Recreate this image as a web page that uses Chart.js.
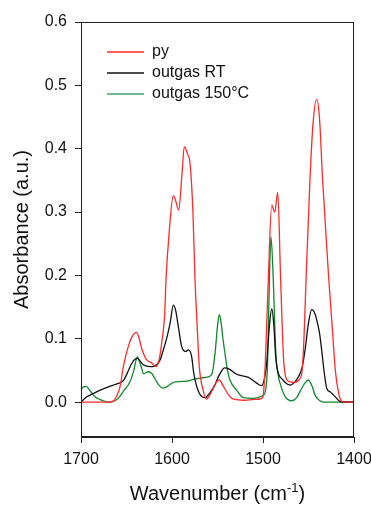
<!DOCTYPE html>
<html>
<head>
<meta charset="utf-8">
<script src="https://cdn.jsdelivr.net/npm/chart.js@4"></script>
<style>
  html, body { margin: 0; padding: 0; background: #fff; }
  #wrap { width: 371px; height: 505px; }
</style>
</head>
<body>
<div id="wrap"><canvas id="chart-1"></canvas></div>
<script>
// spectra (wavenumber in cm-1, absorbance in a.u.)
const pyWave = [1700, 1670, 1664, 1660, 1657, 1653.5, 1648, 1644, 1639, 1636, 1633.4, 1628, 1622.4, 1617.6, 1614, 1611.4, 1608, 1606.6, 1603, 1598.6, 1596, 1592.7, 1589, 1586.5, 1583, 1580.2, 1577, 1574.7, 1572, 1570, 1566, 1562, 1556, 1551, 1548, 1544, 1538, 1533, 1520, 1503, 1500, 1497.5, 1494.2, 1490.4, 1487.1, 1483.8, 1480.6, 1477, 1472, 1466, 1460, 1457, 1455, 1452.7, 1448.4, 1445, 1441, 1438, 1434.5, 1428, 1424, 1420.5, 1417, 1414, 1410, 1400];
const pyAbs = [0, 0, 0.002, 0.012, 0.025, 0.056, 0.088, 0.103, 0.110, 0.100, 0.085, 0.067, 0.062, 0.056, 0.068, 0.093, 0.14, 0.193, 0.27, 0.326, 0.318, 0.303, 0.36, 0.403, 0.392, 0.377, 0.30, 0.193, 0.11, 0.056, 0.02, 0.005, 0.018, 0.032, 0.035, 0.026, 0.012, 0.005, 0.003, 0.005, 0.009, 0.06, 0.193, 0.311, 0.30, 0.331, 0.193, 0.06, 0.033, 0.031, 0.036, 0.05, 0.10, 0.193, 0.351, 0.44, 0.478, 0.45, 0.351, 0.20, 0.12, 0.05, 0.015, 0.002, 0, 0];

const rtWave = [1700, 1694, 1686, 1679, 1672, 1664.5, 1658, 1653.5, 1650, 1646, 1642, 1638, 1634.5, 1631.5, 1624, 1619, 1616.8, 1613, 1609.6, 1606, 1602, 1598.6, 1596, 1593, 1589.4, 1585, 1582, 1578.4, 1576.5, 1574.7, 1570, 1564, 1558.2, 1553, 1548, 1542, 1537, 1529, 1516, 1507, 1501.5, 1498, 1496, 1493, 1490.4, 1488, 1486, 1483, 1478, 1474, 1470, 1465, 1461, 1457, 1454, 1450, 1446.5, 1443, 1441, 1438, 1435.5, 1433, 1430, 1426, 1422.7, 1419, 1415.4, 1400];
const rtAbs = [0, 0.008, 0.014, 0.019, 0.023, 0.027, 0.030, 0.034, 0.043, 0.056, 0.066, 0.069, 0.064, 0.059, 0.056, 0.057, 0.059, 0.067, 0.082, 0.100, 0.125, 0.153, 0.145, 0.119, 0.088, 0.080, 0.0825, 0.072, 0.050, 0.035, 0.014, 0.007, 0.015, 0.027, 0.043, 0.054, 0.052, 0.044, 0.039, 0.030, 0.026, 0.04, 0.06, 0.12, 0.147, 0.12, 0.07, 0.045, 0.035, 0.029, 0.027, 0.032, 0.040, 0.055, 0.080, 0.125, 0.146, 0.140, 0.13, 0.11, 0.082, 0.05, 0.022, 0.016, 0.0115, 0.006, 0.001, 0];

const hotWave = [1700, 1697, 1694.5, 1690, 1685, 1679, 1673, 1668, 1664.5, 1659, 1653.5, 1646, 1642, 1638, 1636, 1633.4, 1631.5, 1626, 1622, 1620, 1615, 1610, 1605, 1598.6, 1591, 1584, 1576, 1569, 1560, 1556, 1552.7, 1550, 1548, 1546, 1544, 1541.8, 1539, 1536.3, 1529, 1521.6, 1510.7, 1500.4, 1497, 1495, 1493, 1491.2, 1488.7, 1486, 1483, 1481.3, 1475.8, 1468.5, 1463, 1459.3, 1454, 1450.2, 1446, 1442.9, 1439, 1435.5, 1430, 1400];
const hotAbs = [0.021, 0.024, 0.025, 0.018, 0.009, 0.004, 0.001, 0, 0.001, 0.006, 0.017, 0.0325, 0.050, 0.072, 0.065, 0.054, 0.045, 0.048, 0.045, 0.040, 0.028, 0.022, 0.025, 0.031, 0.0325, 0.033, 0.036, 0.038, 0.040, 0.045, 0.077, 0.12, 0.138, 0.125, 0.10, 0.077, 0.05, 0.035, 0.019, 0.007, 0.006, 0.010, 0.02, 0.06, 0.193, 0.261, 0.193, 0.08, 0.04, 0.030, 0.009, 0.002, 0.007, 0.017, 0.030, 0.035, 0.025, 0.0115, 0.004, 0.001, 0, 0];

const seriesNames = ["py", "outgas RT", "outgas 150°C"];
const yTickValues = [0, 0.1, 0.2, 0.3, 0.4, 0.5, 0.6];
const xTickValues = [1700, 1600, 1500, 1400];

const FONT = "'Liberation Sans', Arial, sans-serif";

function toPoints(xs, ys) {
  return xs.map((x, i) => ({ x: x, y: ys[i] }));
}

function makeSet(label, xs, ys, color) {
  return {
    label: label,
    data: toPoints(xs, ys),
    borderColor: color,
    borderWidth: 1.3,
    pointRadius: 0,
    fill: false,
    cubicInterpolationMode: "monotone",
  };
}

// frame, legend and axis titles
const extras = {
  id: "extras",
  afterDraw(chart) {
    const c = chart.ctx;
    const a = chart.chartArea;
    c.save();
    c.strokeStyle = "#222";
    c.lineWidth = 1;
    c.strokeRect(a.left + 0.5, a.top + 0.5, a.right - a.left - 1, a.bottom - a.top - 1);

    // legend
    c.font = "16px " + FONT;
    c.textBaseline = "middle";
    chart.data.datasets.forEach((ds, i) => {
      const y = a.top + 30 + i * 21;
      c.strokeStyle = i == 2 ? "#4e9e68" : ds.borderColor;
      c.lineWidth = 1.5;
      c.beginPath();
      c.moveTo(a.left + 26, y);
      c.lineTo(a.left + 63, y);
      c.stroke();
      c.fillStyle = "#111";
      c.textAlign = "left";
      c.fillText(ds.label, a.left + 71, y);
    });

    // y title
    c.fillStyle = "#111";
    c.font = "20px " + FONT;
    c.textAlign = "center";
    c.textBaseline = "alphabetic";
    c.save();
    c.translate(28, (a.top + a.bottom) / 2);
    c.rotate(-Math.PI / 2);
    c.fillText("Absorbance (a.u.)", 0, 0);
    c.restore();

    // x title with superscript
    const main = "Wavenumber (cm";
    const sup = "-1";
    const tail = ")";
    c.font = "20px " + FONT;
    const w1 = c.measureText(main).width;
    const w3 = c.measureText(tail).width;
    c.font = "13px " + FONT;
    const w2 = c.measureText(sup).width;
    let x = (a.left + a.right) / 2 - (w1 + w2 + w3) / 2;
    const base = 500;
    c.textAlign = "left";
    c.font = "20px " + FONT;
    c.fillText(main, x, base);
    x += w1;
    c.font = "13px " + FONT;
    c.fillText(sup, x, base - 8);
    x += w2;
    c.font = "20px " + FONT;
    c.fillText(tail, x, base);
    c.restore();
  },
};

const ctx1 = document.getElementById("chart-1");

new Chart(ctx1, {
  type: "line",
  data: {
    datasets: [
      makeSet(seriesNames[0], pyWave, pyAbs, "#ff2a2a"),
      makeSet(seriesNames[1], rtWave, rtAbs, "#111111"),
      makeSet(seriesNames[2], hotWave, hotAbs, "#12872e"),
    ],
  },
  options: {
    responsive: true,
    maintainAspectRatio: false,
    animation: false,
    layout: { padding: { left: 0, right: 17, top: 22, bottom: 0 } },
    plugins: {
      legend: { display: false },
      tooltip: { enabled: false },
    },
    scales: {
      x: {
        type: "linear",
        reverse: true,
        min: 1400,
        max: 1700,
        afterBuildTicks: (s) => { s.ticks = xTickValues.map((v) => ({ value: v })); },
        afterFit: (s) => { s.height = 68; s.paddingLeft = 0; s.paddingRight = 0; },
        ticks: {
          color: "#111",
          font: { family: FONT, size: 16 },
          padding: 7,
          maxRotation: 0,
          callback: (v) => String(v),
        },
        grid: { drawOnChartArea: false, drawTicks: true, tickLength: 6, color: "#222" },
        border: { display: true, color: "#222" },
      },
      y: {
        min: -0.055,
        max: 0.6,
        afterBuildTicks: (s) => { s.ticks = yTickValues.map((v) => ({ value: v })); },
        afterFit: (s) => { s.width = 81; s.paddingTop = 0; s.paddingBottom = 0; },
        ticks: {
          color: "#111",
          font: { family: FONT, size: 16 },
          padding: 8,
          callback: (v) => v.toFixed(1),
        },
        grid: { drawOnChartArea: false, drawTicks: true, tickLength: 6, color: "#222" },
        border: { display: true, color: "#222" },
      },
    },
  },
  plugins: [extras],
});
</script>
</body>
</html>
